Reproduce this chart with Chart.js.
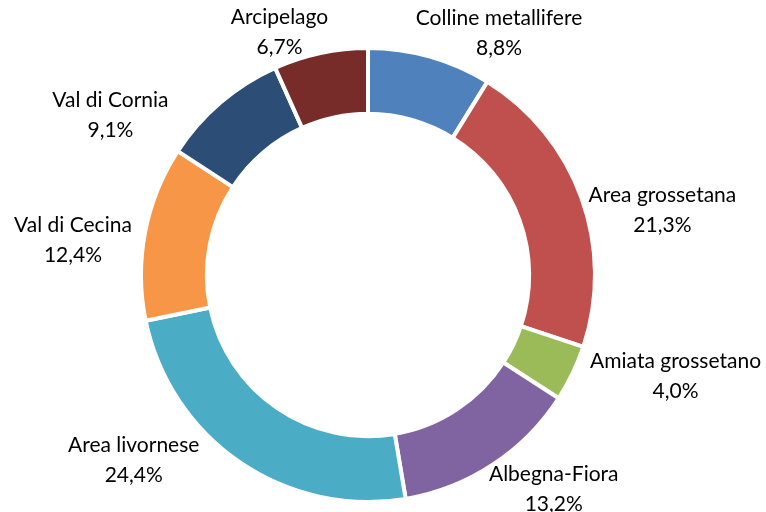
<!DOCTYPE html>
<html>
<head>
<meta charset="utf-8">
<script src="https://cdn.jsdelivr.net/npm/chart.js@4"></script>
<style>
	html, body { margin: 0; padding: 0; background: #fff; }
	#wrap { width: 766px; height: 512px; }
</style>
</head>
<body>
<div id="wrap"><canvas id="areaChart"></canvas></div>
<script>
// quote per area (%)
const areas = ['Colline metallifere', 'Area grossetana', 'Amiata grossetano', 'Albegna-Fiora',
	'Area livornese', 'Val di Cecina', 'Val di Cornia', 'Arcipelago'];
const shares = [8.8, 21.3, 4.0, 13.2, 24.4, 12.4, 9.1, 6.7];
const colors = ['#4F81BD', '#C0504D', '#9BBB59', '#8064A2', '#4BACC6', '#F79646', '#2C4D75', '#772C2A'];

// spostamento etichette rispetto al bordo esterno della fetta
const labelOffsets = [[69, -23], [81, 13], [103, 3], [61, 25], [-106, -2], [-72, 7], [-110, 13], [-41, -21]];

const outsideLabels = {
	id: 'outsideLabels',
	afterDatasetsDraw(chart) {
		const ctx = chart.ctx;
		const meta = chart.getDatasetMeta(0);
		ctx.save();
		ctx.font = '21px Lato';
		ctx.fillStyle = '#000';
		ctx.textAlign = 'center';
		ctx.textBaseline = 'middle';
		meta.data.forEach(function(arc, i) {
			const mid = (arc.startAngle + arc.endAngle) / 2;
			const x = arc.x + Math.cos(mid) * arc.outerRadius + labelOffsets[i][0];
			const y = arc.y + Math.sin(mid) * arc.outerRadius + labelOffsets[i][1];
			ctx.fillText(areas[i], x, y - 15);
			ctx.fillText(shares[i].toFixed(1).replace('.', ',') + '%', x, y + 15);
		});
		ctx.restore();
	}
};

const ctx = document.getElementById('areaChart').getContext('2d');
new Chart(ctx, {
	type: 'doughnut',
	data: {
		labels: areas,
		datasets: [{
			data: shares,
			backgroundColor: colors,
			borderColor: '#fff',
			borderWidth: 4
		}]
	},
	options: {
		responsive: true,
		maintainAspectRatio: false,
		animation: false,
		cutout: '71%',
		layout: { padding: { left: 139, right: 169, top: 46, bottom: 8 } },
		plugins: {
			legend: { display: false },
			tooltip: { enabled: false }
		}
	},
	plugins: [outsideLabels]
});
</script>
</body>
</html>
